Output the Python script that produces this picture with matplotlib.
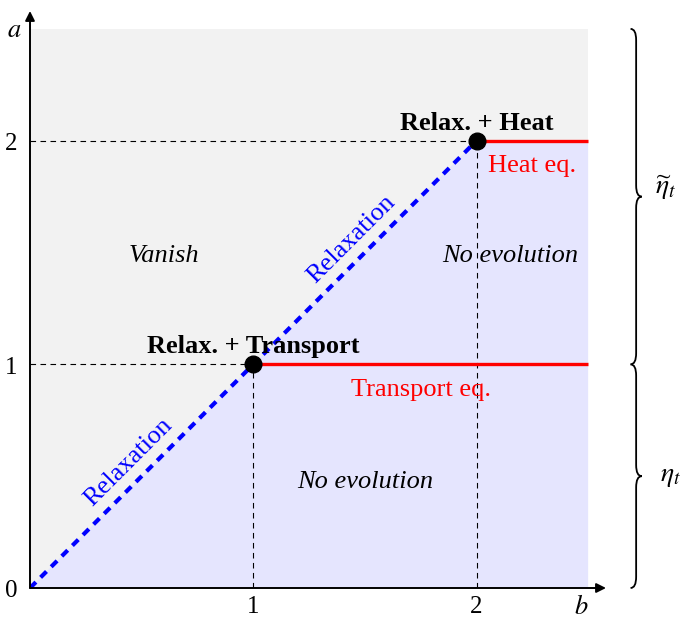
import matplotlib
matplotlib.use("Agg")
import matplotlib.pyplot as plt
from matplotlib.patches import Polygon, Rectangle, PathPatch
from matplotlib.path import Path

plt.rcParams['font.family'] = ['Liberation Serif', 'DejaVu Serif']
plt.rcParams['mathtext.fontset'] = 'stix'

# corner points of the relaxation line
pts_x = [1, 2]
pts_y = [1, 2]
# red equation lines (level, start, end)
eq_levels = [1, 2]
eq_starts = [1, 2]
eq_end = 2.5
xmax = 2.5
ymax = 2.5
xticks = [1, 2]
yticks = [0, 1, 2]

fig = plt.figure(figsize=(6.86, 6.18), dpi=100)
ax = fig.add_axes([30/686, 30/618, 576/686, 577/618])
ax.set_xlim(0, 2.58)
ax.set_ylim(0, 2.58)
for s in ax.spines.values():
    s.set_visible(False)
ax.set_xticks([])
ax.set_yticks([])

# regions
ax.add_patch(Rectangle((0, 0), xmax, ymax, facecolor='#f2f2f2', edgecolor='none', zorder=0))
ax.add_patch(Polygon([(0, 0), (pts_x[-1], pts_y[-1]), (xmax, pts_y[-1]), (xmax, 0)],
                     closed=True, facecolor='#e5e5fe', edgecolor='none', zorder=1))

# dashed guides
for v in pts_x:
    ax.plot([0, v], [v, v], color='black', lw=0.8, ls=(0, (5, 4)), zorder=2)
    ax.plot([v, v], [0, v], color='black', lw=0.8, ls=(0, (5, 4)), zorder=2)

# relaxation diagonal
ax.plot([0, pts_x[-1]], [0, pts_y[-1]], color='#0000ff', lw=3, ls=(0, (2.0, 1.6)), zorder=3)

# equation lines
for lev, st in zip(eq_levels, eq_starts):
    ax.plot([st, eq_end], [lev, lev], color='#ff0000', lw=2.4, zorder=3, solid_capstyle='butt')

ax.plot(pts_x, pts_y, 'o', color='black', ms=12, zorder=5)

# axes arrows
ax.annotate('', xy=(2.58, 0), xytext=(0, 0),
            arrowprops=dict(arrowstyle='-|>', color='black', lw=1.4, mutation_scale=14, shrinkA=0, shrinkB=0), zorder=6)
ax.annotate('', xy=(0, 2.58), xytext=(0, 0),
            arrowprops=dict(arrowstyle='-|>', color='black', lw=1.4, mutation_scale=14, shrinkA=0, shrinkB=0), zorder=6)

fs = 19
tfs = 18
dy = -0.015
for t in yticks:
    ax.text(-0.055, t + dy, str(t), ha='right', va='center', fontsize=tfs, clip_on=False)
for t in xticks:
    ax.text(t, -0.085, str(t), ha='center', va='center', fontsize=tfs, clip_on=False)
ax.text(-0.04, 2.49, '$a$', ha='right', va='center', fontsize=fs, clip_on=False)
ax.text(2.47, -0.085, '$b$', ha='center', va='center', fontsize=fs, clip_on=False)

ax.text(0.6, 1.5 + dy, 'Vanish', style='italic', ha='center', va='center', fontsize=fs)
ax.text(2.15, 1.5 + dy, 'No evolution', style='italic', ha='center', va='center', fontsize=fs, zorder=6)
ax.text(1.5, 0.49 + dy, 'No evolution', style='italic', ha='center', va='center', fontsize=fs)
ax.text(1.0, 1.095 + dy, 'Relax. + Transport', weight='bold', ha='center', va='center', fontsize=fs)
ax.text(2.0, 2.09 + dy, 'Relax. + Heat', weight='bold', ha='center', va='center', fontsize=fs)
ax.text(2.25, 1.9 + dy, 'Heat eq.', color='#ff0000', ha='center', va='center', fontsize=fs)
ax.text(1.75, 0.9 + dy, 'Transport eq.', color='#ff0000', ha='center', va='center', fontsize=fs)
ax.text(0.44, 0.56, 'Relaxation', color='#0000ff', rotation=45, ha='center', va='center',
        fontsize=fs, rotation_mode='anchor')
ax.text(1.44, 1.56, 'Relaxation', color='#0000ff', rotation=45, ha='center', va='center',
        fontsize=fs, rotation_mode='anchor')


def brace(x, y0, y1, w=0.05, r=0.05):
    ym = (y0 + y1) / 2
    verts = [(x - w / 2, y0), (x, y0), (x, y0 + r),
             (x, ym - r), (x, ym), (x + w / 2, ym),
             (x, ym), (x, ym + r),
             (x, y1 - r), (x, y1), (x - w / 2, y1)]
    codes = [Path.MOVETO, Path.CURVE3, Path.CURVE3,
             Path.LINETO, Path.CURVE3, Path.CURVE3,
             Path.CURVE3, Path.CURVE3,
             Path.LINETO, Path.CURVE3, Path.CURVE3]
    ax.add_patch(PathPatch(Path(verts, codes), facecolor='none', edgecolor='black',
                           lw=1.3, clip_on=False))


brace(2.715, 0, 1)
brace(2.715, 1, 2.5)
ax.text(2.8, 1.79, r'$\widetilde{\eta}_t$', ha='left', va='center', fontsize=fs + 1, clip_on=False)
ax.text(2.82, 0.5, r'$\eta_t$', ha='left', va='center', fontsize=fs + 1, clip_on=False)

fig.savefig('out.png', dpi=100)
